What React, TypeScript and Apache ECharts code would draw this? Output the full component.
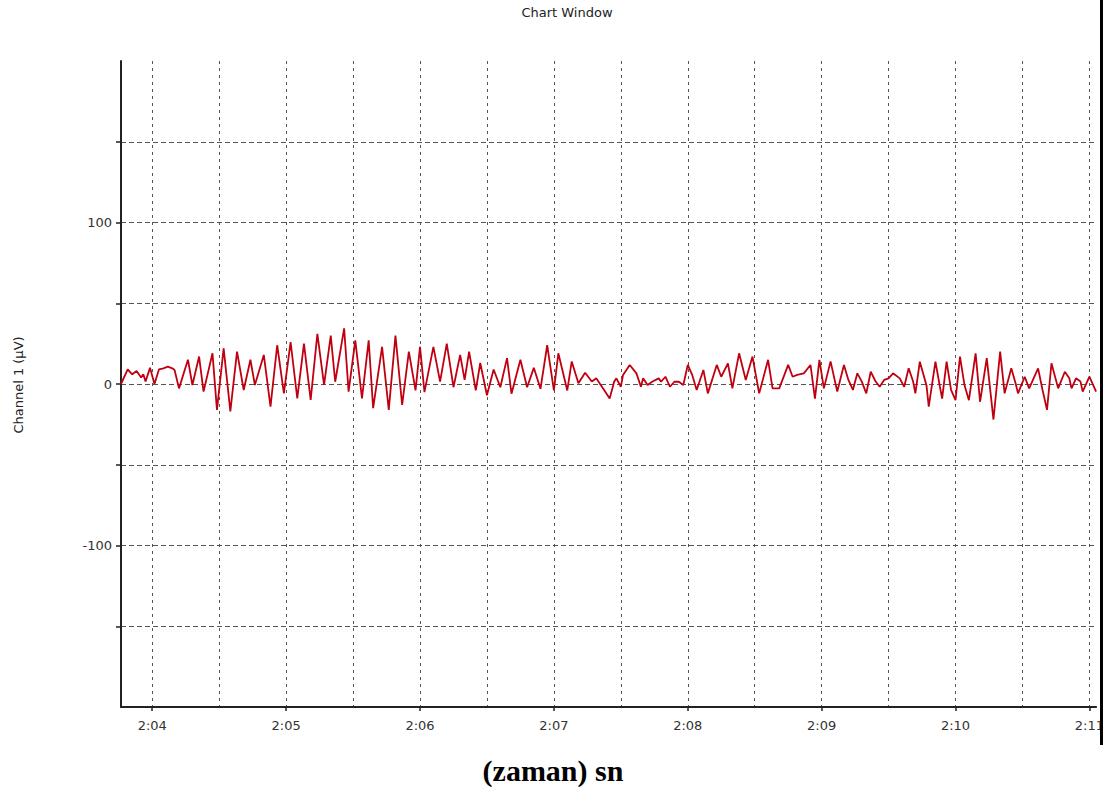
import { useEffect, useRef } from 'react';
import * as echarts from 'echarts';

// time in seconds after 2:00 (2:04 = 240)
const startSec = 226;
const endSec = 663;
const tickLabels = ['2:04', '2:05', '2:06', '2:07', '2:08', '2:09', '2:10', '2:11'];
const yLabels = [-100, 0, 100];

const sampleTimes = [
  226, 229, 231, 233, 235, 236, 237, 239, 241, 243, 245, 247, 249, 250, 252, 256, 258, 261, 263, 267,
  269, 272, 275, 278, 281, 284, 286, 290, 293, 296, 299, 302, 305, 308, 311, 314, 317, 320, 322, 326,
  328, 331, 334, 337, 339, 343, 346, 349, 352, 355, 358, 360, 362, 366, 369, 372, 375, 378, 380, 382,
  385, 387, 390, 393, 396, 399, 401, 405, 408, 411, 414, 417, 420, 422, 426, 428, 431, 434, 437, 439,
  441, 442, 445, 447, 448, 450, 451, 454, 457, 459, 460, 462, 464, 467, 468, 470, 472, 474, 476, 478,
  480, 482, 484, 487, 489, 493, 495, 498, 500, 503, 506, 509, 512, 516, 518, 521, 525, 527, 529, 532,
  535, 537, 539, 541, 544, 547, 550, 552, 554, 556, 558, 560, 562, 564, 566, 568, 570, 572, 575, 577,
  579, 581, 582, 584, 587, 588, 591, 593, 594, 596, 598, 600, 602, 604, 606, 609, 611, 614, 617, 620,
  622, 625, 627, 628, 631, 633, 637, 639, 641, 643, 646, 649, 651, 652, 654, 656, 657, 660, 661, 663,
];

const sampleValues = [
  0, 9, 6, 8, 4, 6, 1.5, 10, 0, 9, 9.7, 10.7, 9.7, 8.7, -2.7, 15, -0.6, 17, -4.7, 19,
  -16, 22, -17, 20, -3.7, 15, -0.6, 18, -14, 24, -5.8, 26, -8.9, 25, -9.9, 31, -0.6, 30, 1.4, 34.5,
  -4.7, 27, -8.9, 27, -15, 23, -16, 30, -13, 20, -4, 23, -5, 23, 1.5, 25, -2, 18, 2.5, 20,
  -4, 13, -7, 9, -2, 16, -6, 15, -2, 10, -3, 24, -4, 19, -4, 14, 0.5, 7, 1.5, 3.5,
  -0.6, -2.7, -9, 1.4, 3.5, -1.7, 5.6, 11.8, 6.6, -1.7, 3.5, -0.6, 1.4, 3.5, 1.4, 4.5, -1.7, 1.4, 1.4, -0.6,
  11.8, 5.6, -3.7, 8.7, -5.8, 11.8, 4.5, 12.8, -2.7, 19, 2.5, 17, -5.8, 15, -2.7, -2.7, 11.8, 4.5, 5.6, 6.6,
  11.8, -9, 15, -2.7, 14, -4.7, 11.8, 2.5, -3.7, 6.6, 1.5, -5.8, 7.6, 2, -1.7, 2.5, 3.5, 6.6, 3.5, -1.7,
  9.7, 1.5, -5.8, 13.8, -1, -14, 13.8, -1.7, -9, 13.8, -3.7, -10, 17, -0.6, -10, 19, -11, 16, -22, 20,
  -5.8, 9.7, 0, -5.8, 4.5, -2.7, 9.7, -3.7, -16, 12.8, -2.7, 7.6, 3.5, -2.7, 3.5, 1.5, -4.7, 4.5, 1.5, -4.7,
];

export default function App() {
  const ref = useRef<HTMLDivElement>(null);

  useEffect(() => {
    const chart = echarts.init(ref.current!, null, { renderer: 'svg' });
    const categories: string[] = [];
    for (let s = startSec; s <= endSec; s++) categories.push(String(s));
    const data = sampleTimes.map((t, i) => [t - startSec, sampleValues[i]]);
    const isMinute = (_i: number, v: string) => Number(v) % 60 === 0;
    const isHalf = (_i: number, v: string) => Number(v) % 30 === 0;
    const labelFont = 'DejaVu Sans, Tahoma, sans-serif';

    chart.setOption({
      animation: false,
      backgroundColor: '#ffffff',
      grid: { left: 121, right: 6, top: 61, bottom: 84, containLabel: false },
      xAxis: {
        type: 'category',
        data: categories,
        boundaryGap: false,
        axisLine: { show: true, onZero: false, lineStyle: { color: '#222', width: 2 } },
        axisTick: { show: true, interval: isMinute, length: 4, lineStyle: { color: '#222', width: 1.5 } },
        axisLabel: {
          show: true,
          interval: isMinute,
          margin: 12,
          color: '#333',
          fontSize: 13,
          fontFamily: labelFont,
          formatter: (v: string) => {
            const s = Number(v);
            if (s % 60 !== 0) return '';
            return tickLabels[(s - 240) / 60] ?? '';
          },
        },
        splitLine: {
          show: true,
          interval: isHalf,
          lineStyle: { color: '#555', width: 1, type: [3, 4] },
        },
      },
      yAxis: {
        type: 'value',
        min: -200,
        max: 200,
        interval: 50,
        axisLine: { show: true, onZero: false, lineStyle: { color: '#222', width: 2 } },
        axisTick: { show: true, length: 5, lineStyle: { color: '#222', width: 1.5 } },
        axisLabel: {
          show: true,
          margin: 9,
          color: '#333',
          fontSize: 13,
          fontFamily: labelFont,
          showMinLabel: false,
          showMaxLabel: false,
          formatter: (v: number) => (yLabels.includes(v) ? String(v) : ''),
        },
        splitLine: {
          show: true,
          showMinLine: false,
          showMaxLine: false,
          lineStyle: { color: '#555', width: 1, type: [5, 3] },
        },
      },
      series: [
        {
          type: 'line',
          data,
          showSymbol: false,
          symbol: 'none',
          lineStyle: { color: '#c00010', width: 1.8 },
          z: 5,
        },
      ],
      graphic: [
        {
          type: 'text',
          x: 567,
          y: 12,
          style: {
            text: 'Chart Window',
            fill: '#222',
            font: '13px DejaVu Sans, Tahoma, sans-serif',
            align: 'center',
            verticalAlign: 'middle',
          },
        },
        {
          type: 'text',
          x: 18,
          y: 385,
          rotation: Math.PI / 2,
          style: {
            text: 'Channel 1 (µV)',
            fill: '#222',
            font: '13px DejaVu Sans, Tahoma, sans-serif',
            align: 'center',
            verticalAlign: 'middle',
          },
        },
        {
          type: 'text',
          x: 553,
          y: 770,
          style: {
            text: '(zaman) sn',
            fill: '#000',
            font: 'bold 30px Liberation Serif, Times New Roman, serif',
            align: 'center',
            verticalAlign: 'middle',
          },
        },
        {
          type: 'rect',
          shape: { x: 1102, y: 0, width: 10, height: 791 },
          style: { fill: '#ffffff' },
          z: 100,
        },
        {
          type: 'line',
          shape: { x1: 1101.5, y1: 0, x2: 1101.5, y2: 745 },
          style: { stroke: '#000', lineWidth: 3 },
          z: 101,
        },
      ],
    });

    return () => chart.dispose();
  }, []);

  return (
    <div
      ref={ref}
      style={{ position: 'fixed', left: 0, top: 0, width: 1107, height: 791, background: '#fff' }}
    />
  );
}
